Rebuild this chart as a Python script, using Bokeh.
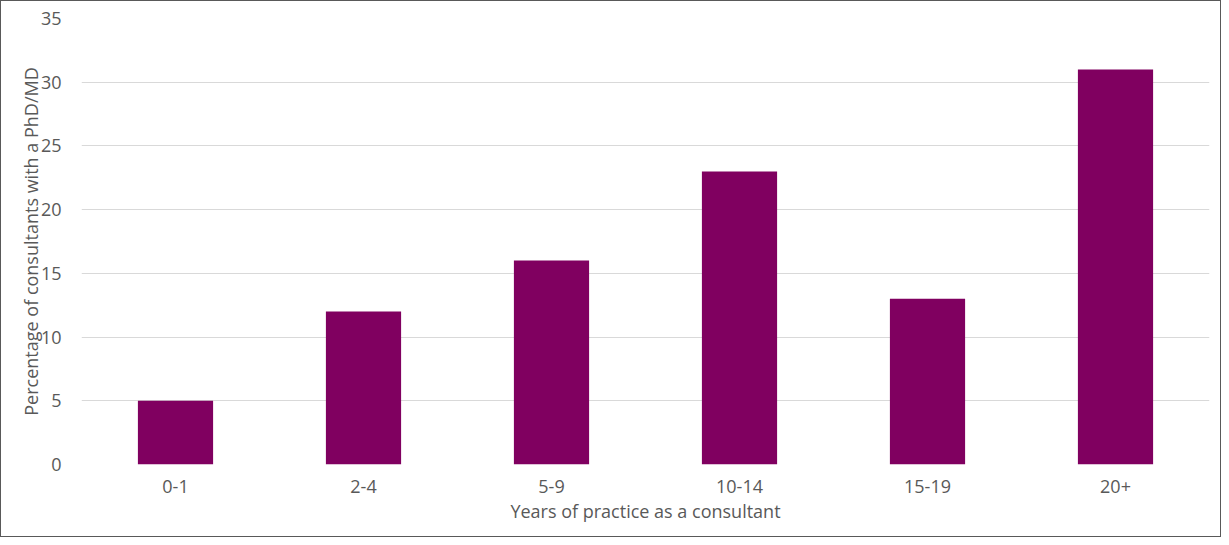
from bokeh.plotting import figure
from bokeh.models import Range1d, FactorRange, SingleIntervalTicker
from bokeh.embed import file_html
from bokeh.resources import INLINE

categories = ["0-1", "2-4", "5-9", "10-14", "15-19", "20+"]
values = [5, 12, 16, 23, 13, 31]

FONT = "Open Sans"
TXT = "#595959"

p = figure(x_range=FactorRange(*categories, range_padding=0), y_range=Range1d(0, 35),
           width=1221, height=537, output_backend="svg", toolbar_location=None,
           min_border_left=80, min_border_right=13, min_border_top=17, min_border_bottom=74)
p.styles = {"border": "1px solid #595959", "box-sizing": "border-box"}

p.vbar(x=categories, top=values, width=0.4, color="#800060", line_color=None)

p.outline_line_color = None
p.xgrid.grid_line_color = None
p.ygrid.grid_line_color = "#d9d9d9"
p.ygrid.grid_line_width = 1
p.yaxis.ticker = SingleIntervalTicker(interval=5)

for ax in (p.xaxis[0], p.yaxis[0]):
    ax.axis_line_color = None
    ax.major_tick_line_color = None
    ax.minor_tick_line_color = None
    ax.major_label_text_font = FONT
    ax.major_label_text_font_size = "18px"
    ax.major_label_text_color = TXT
    ax.axis_label_text_font = FONT
    ax.axis_label_text_font_size = "18px"
    ax.axis_label_text_color = TXT
    ax.axis_label_text_font_style = "normal"

p.xaxis.axis_label = "Years of practice as a consultant"
p.yaxis.axis_label = "Percentage of consultants with a PhD/MD"
p.xaxis.major_label_standoff = 9
p.xaxis.axis_label_standoff = 3
p.yaxis.major_label_standoff = 14
p.yaxis.axis_label_standoff = -5

open("out.html", "w").write(file_html(p, INLINE))
